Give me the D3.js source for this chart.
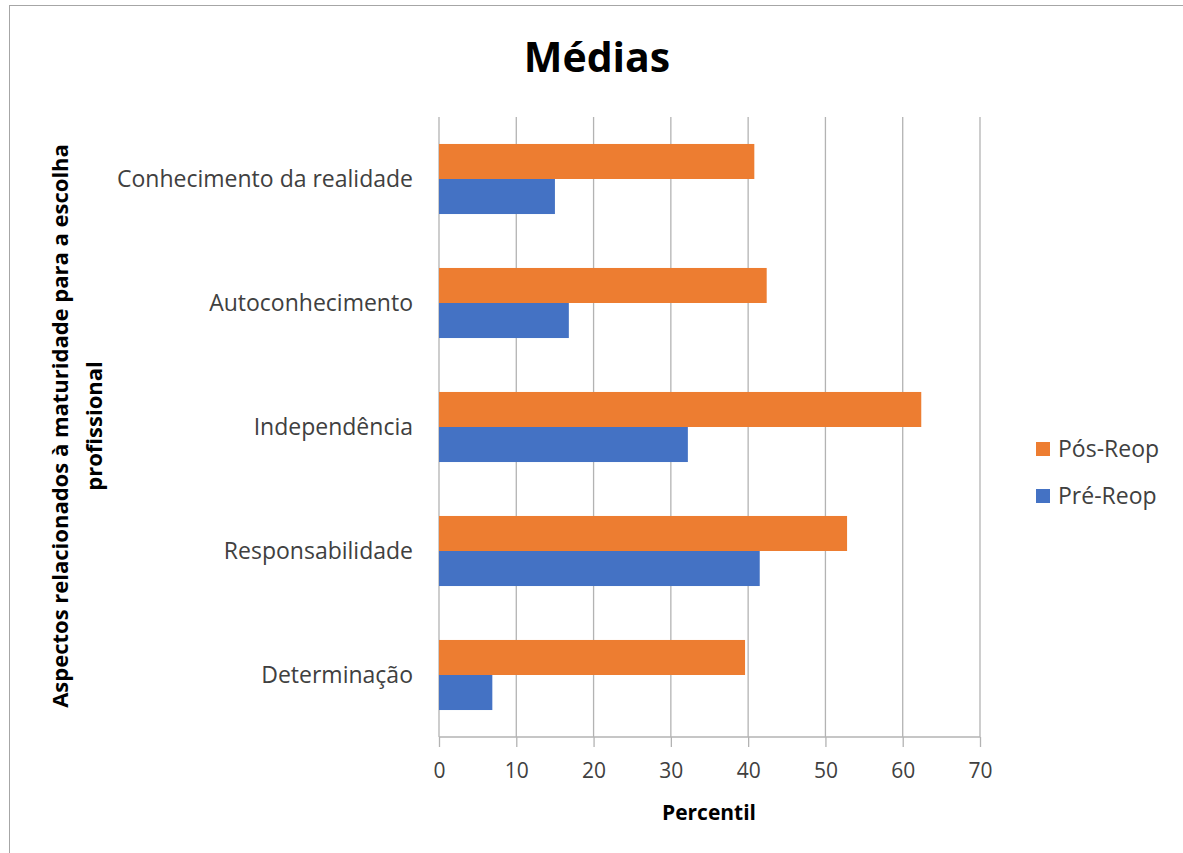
<!DOCTYPE html>
<html>
<head>
<meta charset="utf-8">
<script src="https://cdn.jsdelivr.net/npm/d3@7"></script>
<style>
  body { margin: 0; background: #fff; }
  svg { font-family: "Open Sans", sans-serif; }
</style>
</head>
<body>
<svg id="chart" width="1183" height="853"></svg>
<script>
// categories from top to bottom
const categories = ['Conhecimento da realidade', 'Autoconhecimento', 'Independência', 'Responsabilidade', 'Determinação'];
const seriesNames = ['Pós-Reop', 'Pré-Reop'];
const posReop = [40.8, 42.4, 62.4, 52.8, 39.6];
const preReop = [15.0, 16.8, 32.2, 41.5, 6.9];
const xTicks = [0, 10, 20, 30, 40, 50, 60, 70];
const colors = ['#ED7D31', '#4472C4'];

const svg = d3.select('#chart');

// frame
svg.append('rect')
  .attr('x', 9.5).attr('y', 5.5)
  .attr('width', 1183).attr('height', 860)
  .attr('fill', '#fff').attr('stroke', '#a6a6a6');

const plotLeft = 439, plotRight = 980, plotTop = 117, plotBottom = 737;

const x = d3.scaleLinear().domain([0, 70]).range([plotLeft, plotRight]);
const y = d3.scaleBand().domain(categories).range([plotTop, plotBottom]).paddingInner(0.435).paddingOuter(0.2175);
const ySub = d3.scaleBand().domain(seriesNames).range([0, y.bandwidth()]);

// gridlines
svg.append('g')
  .selectAll('line')
  .data(xTicks)
  .join('line')
  .attr('x1', d => x(d)).attr('x2', d => x(d))
  .attr('y1', plotTop).attr('y2', plotBottom)
  .attr('stroke', '#b3b3b3').attr('stroke-width', 1.3);

// bars
const rows = categories.map((c, i) => ({ cat: c, vals: [posReop[i], preReop[i]] }));
const groups = svg.append('g')
  .selectAll('g')
  .data(rows)
  .join('g')
  .attr('transform', d => `translate(0, ${y(d.cat)})`);

groups.selectAll('rect')
  .data(d => d.vals.map((v, j) => ({ name: seriesNames[j], v: v, j: j })))
  .join('rect')
  .attr('x', x(0))
  .attr('y', d => ySub(d.name))
  .attr('width', d => x(d.v) - x(0))
  .attr('height', ySub.bandwidth())
  .attr('fill', d => colors[d.j]);

// x axis
const xAxis = svg.append('g')
  .attr('transform', `translate(0, ${plotBottom})`)
  .call(d3.axisBottom(x).tickValues(xTicks).tickSize(10).tickPadding(16));
xAxis.select('.domain').attr('stroke', '#b3b3b3').attr('stroke-width', 1.3).attr('d', `M${plotLeft},0H${plotRight}`);
xAxis.selectAll('.tick line').attr('stroke', '#b3b3b3').attr('stroke-width', 1.3);
xAxis.selectAll('.tick text').attr('font-size', 21).attr('fill', '#404040').attr('font-family', '"Open Sans", sans-serif');

// y axis labels
svg.append('g')
  .selectAll('text')
  .data(categories)
  .join('text')
  .attr('x', 413)
  .attr('y', d => y(d) + y.bandwidth() / 2)
  .attr('dy', '0.35em')
  .attr('text-anchor', 'end')
  .attr('font-size', 23)
  .attr('fill', '#404040')
  .text(d => d);

// title
svg.append('text')
  .attr('x', 597).attr('y', 72)
  .attr('text-anchor', 'middle')
  .attr('font-size', 41).attr('font-weight', 'bold')
  .attr('fill', '#000')
  .text('Médias');

// x axis title
svg.append('text')
  .attr('x', 709).attr('y', 820)
  .attr('text-anchor', 'middle')
  .attr('font-size', 21).attr('font-weight', 'bold')
  .attr('fill', '#000')
  .text('Percentil');

// y axis title (two lines)
const yTitle = svg.append('text')
  .attr('transform', 'translate(68, 426) rotate(-90)')
  .attr('text-anchor', 'middle')
  .attr('font-size', 22).attr('font-weight', 'bold')
  .attr('fill', '#000');
yTitle.append('tspan').attr('x', 0).attr('y', 0).text('Aspectos relacionados à maturidade  para a escolha');
yTitle.append('tspan').attr('x', 0).attr('y', 34).text('profissional');

// legend
const legend = svg.append('g')
  .selectAll('g')
  .data(seriesNames)
  .join('g')
  .attr('transform', (d, i) => `translate(1036, ${449 + i * 47})`);
legend.append('rect')
  .attr('x', 0).attr('y', -7)
  .attr('width', 14).attr('height', 14)
  .attr('fill', (d, i) => colors[i]);
legend.append('text')
  .attr('x', 22).attr('y', 0)
  .attr('dy', '0.35em')
  .attr('font-size', 23)
  .attr('fill', '#404040')
  .text(d => d);
</script>
</body>
</html>
